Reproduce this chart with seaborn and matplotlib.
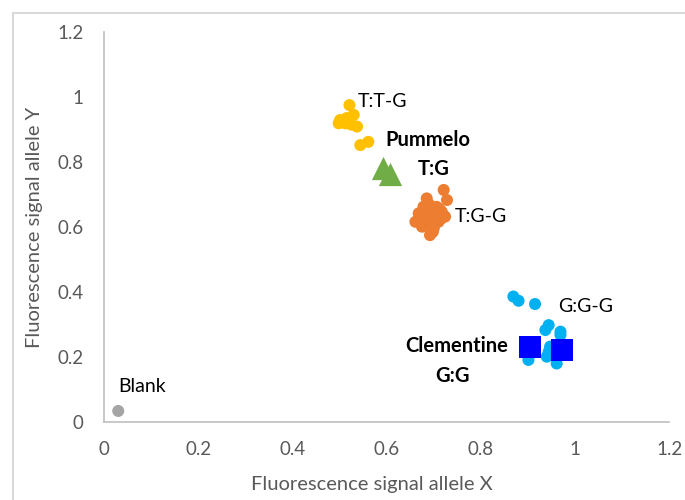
import numpy as np
import pandas as pd
import matplotlib as mpl
mpl.use('Agg')
import matplotlib.pyplot as plt
import seaborn as sns
from matplotlib.lines import Line2D

# genotype clusters (allele X, allele Y)
ttg_x = [0.521, 0.501, 0.512, 0.530, 0.537, 0.544, 0.561, 0.498, 0.515, 0.525]
ttg_y = [0.975, 0.929, 0.919, 0.945, 0.909, 0.852, 0.862, 0.919, 0.935, 0.915]

tgg_x = [0.721, 0.728, 0.685, 0.668, 0.661, 0.692, 0.700, 0.724, 0.706, 0.678,
         0.685, 0.710, 0.675, 0.700, 0.717, 0.690, 0.695, 0.682, 0.712, 0.703,
         0.688, 0.670, 0.698, 0.715, 0.692]
tgg_y = [0.714, 0.683, 0.688, 0.642, 0.616, 0.575, 0.596, 0.632, 0.662, 0.662,
         0.622, 0.616, 0.601, 0.642, 0.647, 0.670, 0.610, 0.635, 0.655, 0.628,
         0.650, 0.630, 0.585, 0.625, 0.605]

ggg_x = [0.869, 0.880, 0.915, 0.944, 0.937, 0.969, 0.969, 0.901, 0.944, 0.940,
         0.961, 0.947]
ggg_y = [0.386, 0.373, 0.363, 0.298, 0.283, 0.278, 0.268, 0.191, 0.216, 0.201,
         0.180, 0.232]

blank_x = [0.030]
blank_y = [0.034]

pummelo_x = [0.593, 0.607]
pummelo_y = [0.782, 0.762]

clementine_x = [0.905, 0.972]
clementine_y = [0.232, 0.222]

groups = [
    ('T:T-G', ttg_x, ttg_y),
    ('T:G-G', tgg_x, tgg_y),
    ('G:G-G', ggg_x, ggg_y),
    ('Blank', blank_x, blank_y),
]
rows = []
for name, xs, ys in groups:
    for xv, yv in zip(xs, ys):
        rows.append((name, xv, yv))
df = pd.DataFrame(rows, columns=['group', 'x', 'y'])

refs = pd.DataFrame({
    'group': ['Pummelo'] * len(pummelo_x) + ['Clementine'] * len(clementine_x),
    'x': pummelo_x + clementine_x,
    'y': pummelo_y + clementine_y,
})

palette = {'T:T-G': '#FFC000', 'T:G-G': '#ED7D31', 'G:G-G': '#00B0F0',
           'Blank': '#A5A5A5'}

sns.set_style('white')
plt.rcParams['font.family'] = ['Lato', 'DejaVu Sans']

fig = plt.figure(figsize=(6.85, 5.0), dpi=100)
ax = fig.add_axes([0.152, 0.156, 0.825, 0.78])

sns.scatterplot(data=df, x='x', y='y', hue='group', palette=palette,
                s=75, linewidth=0, legend=False, ax=ax, zorder=3)
sns.scatterplot(data=refs[refs.group == 'Pummelo'], x='x', y='y',
                marker='^', color='#70AD47', s=280, linewidth=0,
                legend=False, ax=ax, zorder=4)
sns.scatterplot(data=refs[refs.group == 'Clementine'], x='x', y='y',
                marker='s', color='#0000FF', s=230, linewidth=0,
                legend=False, ax=ax, zorder=4)

ax.set_xlim(0, 1.2)
ax.set_ylim(0, 1.2)
ax.set_xticks([0, 0.2, 0.4, 0.6, 0.8, 1.0, 1.2])
ax.set_xticklabels(['0', '0.2', '0.4', '0.6', '0.8', '1', '1.2'])
ax.set_yticks([0, 0.2, 0.4, 0.6, 0.8, 1.0, 1.2])
ax.set_yticklabels(['0', '0.2', '0.4', '0.6', '0.8', '1', '1.2'])
ax.tick_params(axis='both', length=0, labelsize=13.5, labelcolor='#595959')
ax.tick_params(axis='x', pad=14)
ax.tick_params(axis='y', pad=15)
ax.set_xlabel('Fluorescence signal allele X', fontsize=14.5, color='#595959')
ax.set_ylabel('Fluorescence signal allele Y', fontsize=14.5, color='#595959',
              labelpad=10)
ax.xaxis.set_label_coords(0.474, -0.138)
sns.despine(ax=ax)
for side in ['left', 'bottom']:
    ax.spines[side].set_color('#BFBFBF')
    ax.spines[side].set_linewidth(1.2)

# annotations
txt = dict(fontsize=14, color='black')
ax.text(0.538, 0.985, 'T:T-G', va='center', ha='left', **txt)
ax.text(0.745, 0.632, 'T:G-G', va='center', ha='left', **txt)
ax.text(0.965, 0.355, 'G:G-G', va='center', ha='left', **txt)
ax.text(0.030, 0.110, 'Blank', va='center', ha='left', **txt)
bold = dict(fontsize=14.5, color='black', fontweight='bold')
ax.text(0.597, 0.868, 'Pummelo', va='center', ha='left', **bold)
ax.text(0.667, 0.778, 'T:G', va='center', ha='left', **bold)
ax.text(0.858, 0.233, 'Clementine', va='center', ha='right', **bold)
ax.text(0.739, 0.140, 'G:G', va='center', ha='center', **bold)

# outer frame of the original chart area
fig.add_artist(Line2D([13 / 685, 13 / 685], [0, 1 - 13 / 500],
                      color='#D9D9D9', lw=1.5, transform=fig.transFigure))
fig.add_artist(Line2D([13 / 685, 1], [1 - 13 / 500, 1 - 13 / 500],
                      color='#D9D9D9', lw=1.5, transform=fig.transFigure))

fig.savefig('out.png', dpi=100)
